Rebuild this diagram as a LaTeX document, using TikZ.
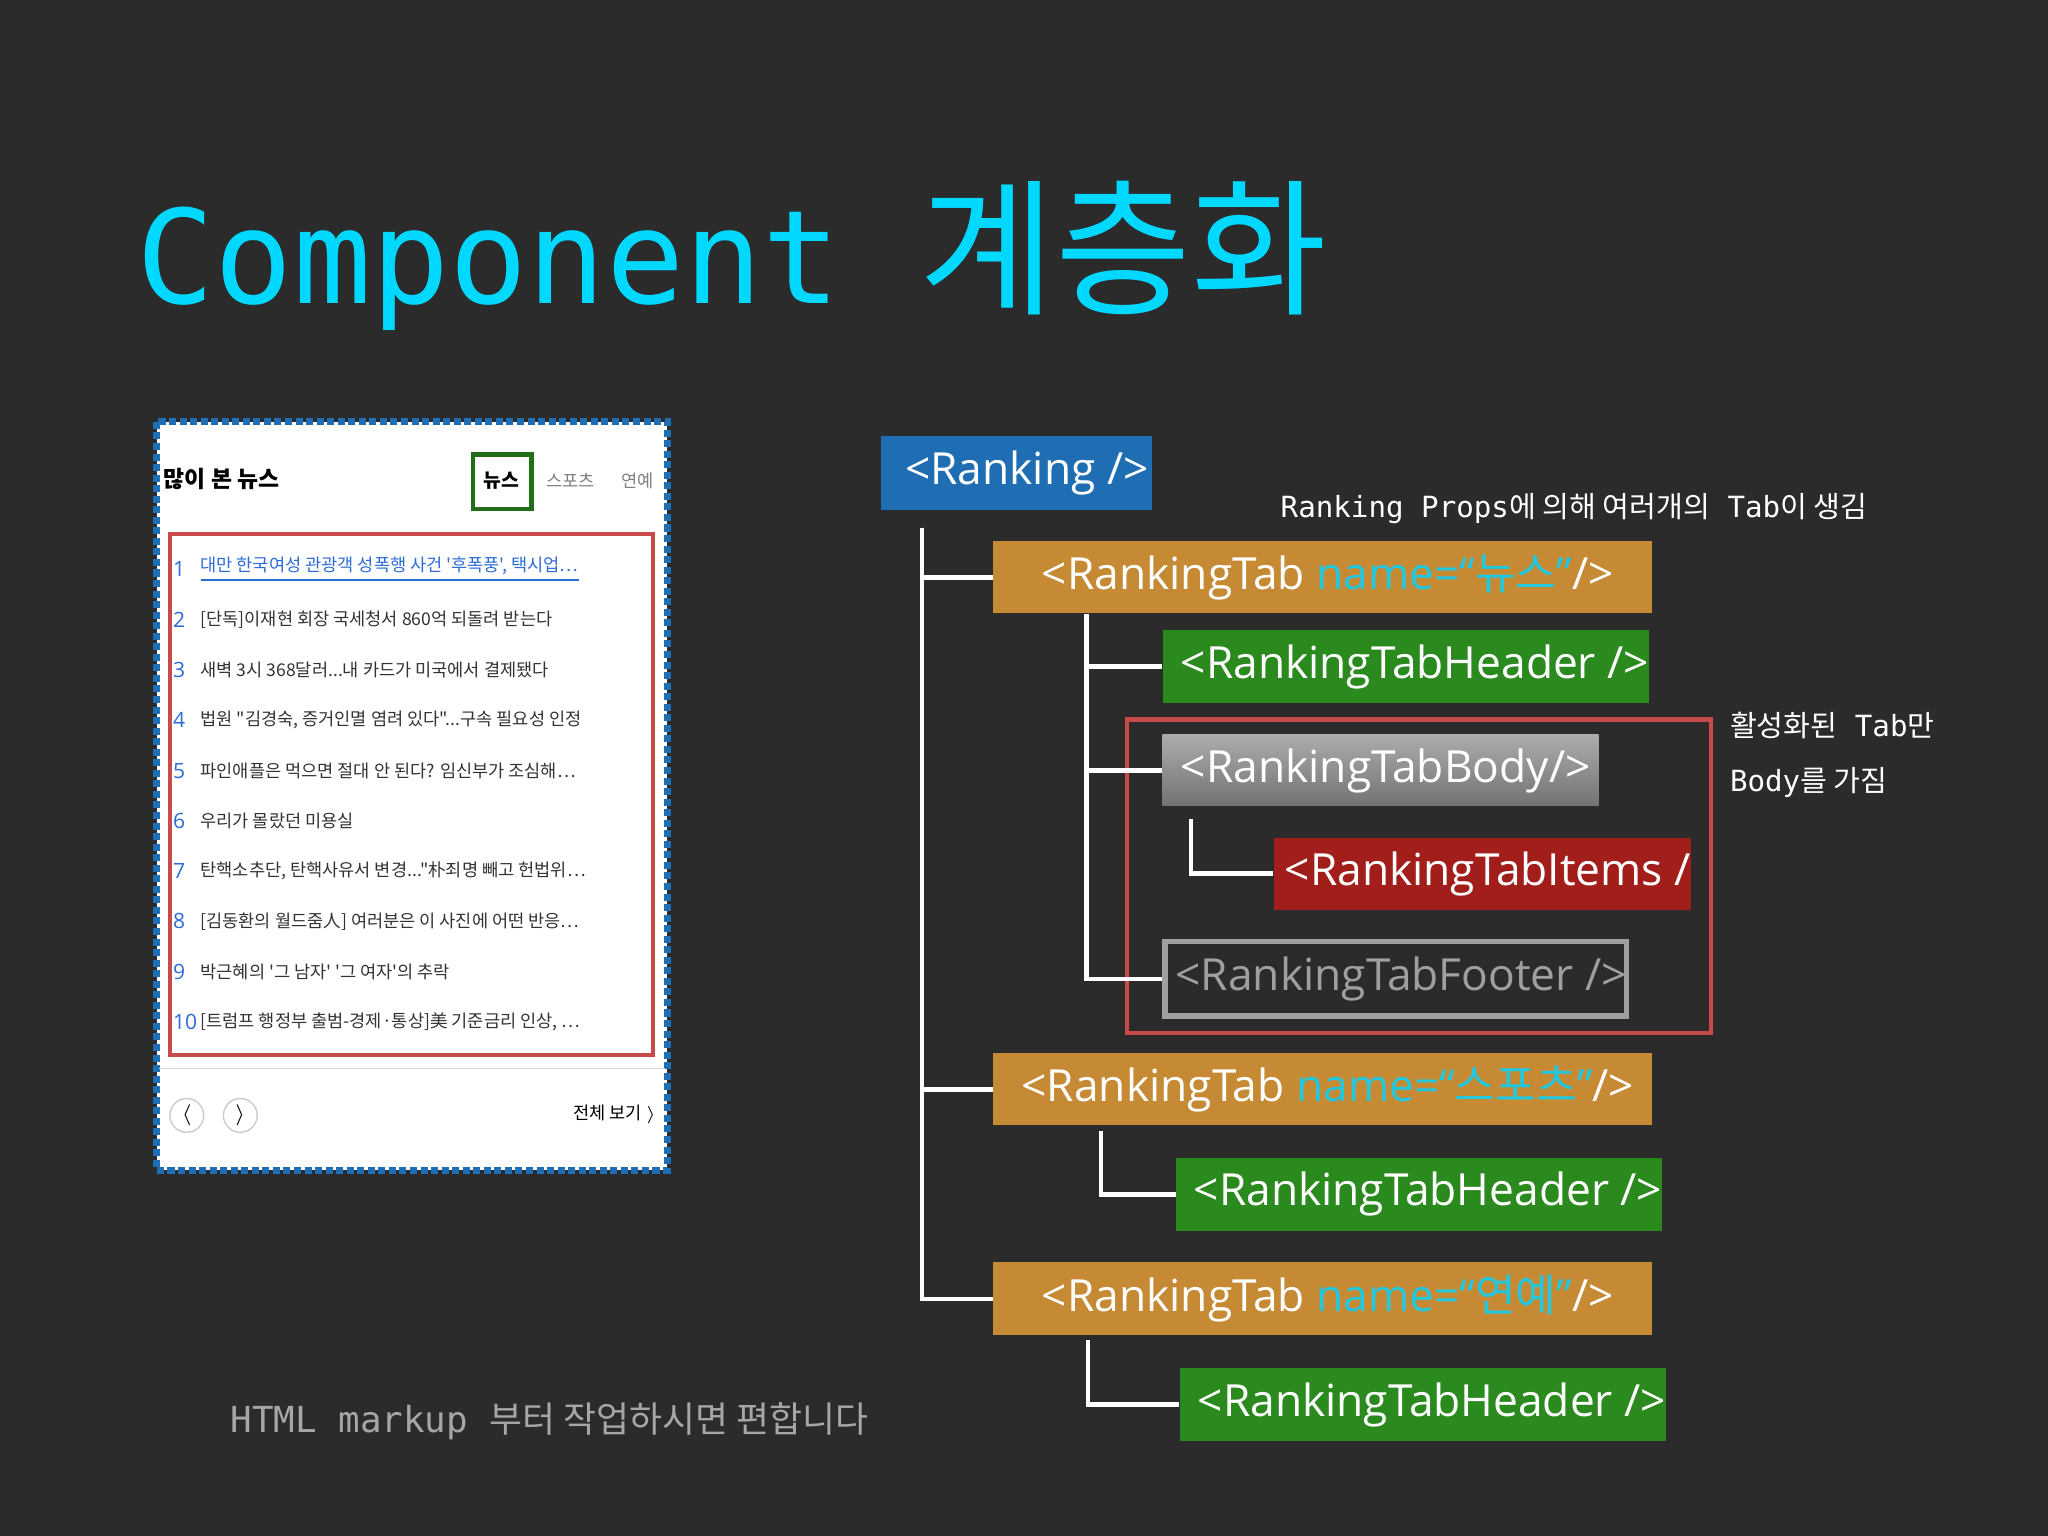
\documentclass[tikz,border=0pt]{standalone}
\usepackage{fontspec}
\setmainfont{Open Sans}
\setmonofont{DejaVu Sans Mono}
\newfontfamily\kr{Noto Sans CJK KR}
\usetikzlibrary{positioning}
\definecolor{bg}{HTML}{2B2B2B}
\definecolor{ttl}{HTML}{00D8FF}
\definecolor{cblue}{HTML}{1F6DB3}
\definecolor{corange}{HTML}{C68A34}
\definecolor{cgreen}{HTML}{2A8A1E}
\definecolor{cred}{HTML}{A11E1A}
\definecolor{cname}{HTML}{22C8E0}
\definecolor{rline}{HTML}{C84A4A}
\definecolor{ilink}{HTML}{2D6CD8}
\newcommand{\tsz}{\fontsize{12.6}{14}\selectfont}
\def\uu{0.3703pt}
\begin{document}
\begin{tikzpicture}[x=0.013061cm,y=-0.013061cm,
  tag/.style={anchor=north west,inner sep=0pt,text=white,font=\tsz,align=left},
  conn/.style={draw=white,line width=1.3pt},
  item/.style={anchor=west,inner sep=0pt,font=\kr\fontsize{5}{6}\selectfont,text=black!80},
  inum/.style={anchor=west,inner sep=0pt,font=\fontsize{6}{7}\selectfont,text=ilink}]
\fill[bg] (0,0) rectangle (1568,1176);
\useasboundingbox (0,0) rectangle (1568,1176);
% title
\node[anchor=base west,inner sep=0pt,text=ttl,font=\ttfamily\fontsize{37}{40}\selectfont] (title) at (104,232) {Component {\kr\fontsize{42}{44}\selectfont 계층화}};
% screenshot
\fill[white] (120,323) rectangle (511,896);
\draw[cblue,line width=2pt,densely dotted] (120,323) rectangle (511,896);
\node[anchor=west,inner sep=0pt,font=\kr\bfseries\fontsize{6.5}{7}\selectfont] (hd) at (125,367) {많이 본 뉴스};
\draw[cgreen!80!black,line width=1.2pt] (362,348) rectangle (407,390);
\node[inner sep=0pt,font=\kr\bfseries\fontsize{5.5}{6}\selectfont] (t1) at (384,368) {뉴스};
\node[inner sep=0pt,font=\kr\fontsize{5}{6}\selectfont,text=gray] (t2) at (437,368) {스포츠};
\node[inner sep=0pt,font=\kr\fontsize{5}{6}\selectfont,text=gray] (t3) at (488,368) {연예};
\draw[rline,line width=1.2pt] (130,409) rectangle (500,808);
\foreach \i/\t in {1/{\textcolor{ilink}{\underline{대만 한국여성 관광객 성폭행 사건 '후폭풍', 택시업…}}},2/{[단독]이재현 회장 국세청서 860억 되돌려 받는다},3/{새벽 3시 368달러...내 카드가 미국에서 결제됐다},4/{법원 "김경숙, 증거인멸 염려 있다"...구속 필요성 인정},5/{파인애플은 먹으면 절대 안 된다? 임신부가 조심해…},6/{우리가 몰랐던 미용실},7/{탄핵소추단, 탄핵사유서 변경..."朴죄명 빼고 헌법위…},8/{[김동환의 월드줌人] 여러분은 이 사진에 어떤 반응…},9/{박근혜의 '그 남자' '그 여자'의 추락},10/{[트럼프 행정부 출범-경제·통상]美 기준금리 인상, …}}{
  \pgfmathsetmacro\yy{436+38.5*(\i-1)}
  \node[inum] (n\i) at (132,\yy) {\i};
  \node[item] (it\i) at (153,\yy) {\t};
}
\draw[gray!30] (122,818) -- (509,818);
\node[draw=gray!40,circle,minimum size=26*\uu,inner sep=0pt,font=\fontsize{6}{6}\selectfont] (b1) at (143,854) {$\langle$};
\node[draw=gray!40,circle,minimum size=26*\uu,inner sep=0pt,font=\fontsize{6}{6}\selectfont] (b2) at (184,854) {$\rangle$};
\node[anchor=east,inner sep=0pt,font=\kr\fontsize{5}{6}\selectfont] (all) at (503,853) {전체 보기 $\rangle$};
% tree boxes
\node[tag,fill=cblue,minimum width=208*\uu,minimum height=57*\uu] (rk) at (674,333) {\hspace*{6pt}<Ranking />};
\node[tag,fill=corange,minimum width=506*\uu,minimum height=55*\uu] (rt1) at (760,414) {\hspace*{3pt}<RankingTab \textcolor{cname}{name=“{\kr 뉴스}”}/>};
\node[tag,fill=cgreen,minimum width=332*\uu,minimum height=56*\uu] (h1) at (890,482) {\hspace*{5pt}<RankingTabHeader />};
\draw[rline,line width=1.3pt] (863,551) rectangle (1310,791);
\shade[top color=gray!65,bottom color=gray!90!black] (890,562) rectangle (1224,617);
\node[tag,minimum width=334*\uu,minimum height=55*\uu] (bd) at (890,562) {\hspace*{3pt}<RankingTabBody/>};
\node[tag,fill=cred,minimum width=317*\uu,minimum height=55*\uu] (itm) at (975,641) {\hspace*{3pt}<RankingTabItems /};
\node[tag,draw=gray!75,line width=1.5pt,minimum width=334*\uu,minimum height=57*\uu,text=gray!75] (ft) at (890,719) {\hspace*{3pt}<RankingTabFooter />};
\node[tag,fill=corange,minimum width=506*\uu,minimum height=55*\uu] (rt2) at (760,806) {\hspace*{3pt}<RankingTab \textcolor{cname}{name=“{\kr 스포츠}”}/>};
\node[tag,fill=cgreen,minimum width=332*\uu,minimum height=56*\uu] (h2) at (900,886) {\hspace*{5pt}<RankingTabHeader />};
\node[tag,fill=corange,minimum width=506*\uu,minimum height=56*\uu] (rt3) at (760,966) {\hspace*{3pt}<RankingTab \textcolor{cname}{name=“{\kr 연예}”}/>};
\node[tag,fill=cgreen,minimum width=333*\uu,minimum height=56*\uu] (h3) at (903,1047) {\hspace*{5pt}<RankingTabHeader />};
% connectors
\coordinate (a0) at (706,404);
\draw[conn] (a0) |- (rt1.west);
\draw[conn] (a0) |- (rt2.west);
\draw[conn] (a0) |- (rt3.west);
\coordinate (b0) at (832,470);
\draw[conn] (b0) |- (h1.west);
\draw[conn] (b0) |- (bd.west);
\draw[conn] (b0) |- (ft.west);
\coordinate (c0) at (912,627);
\draw[conn] (c0) |- (itm.west);
\coordinate (d0) at (843,866);
\draw[conn] (d0) |- (h2.west);
\coordinate (e0) at (833,1026);
\draw[conn] (e0) |- (h3.west);
% annotations
\node[anchor=base west,inner sep=0pt,text=white,font=\ttfamily\fontsize{8.3}{10}\selectfont] (an1) at (980,396) {Ranking Props{\kr 에 의해 여러개의} Tab{\kr 이 생김}};
\node[anchor=base west,inner sep=0pt,text=white,font=\ttfamily\fontsize{8.3}{10}\selectfont] (an2) at (1324,564) {{\kr 활성화된} Tab{\kr 만}};
\node[anchor=base west,inner sep=0pt,text=white,font=\ttfamily\fontsize{8.3}{10}\selectfont] (an3) at (1324,606) {Body{\kr 를 가짐}};
\node[anchor=base west,inner sep=0pt,text=gray!70,font=\ttfamily\fontsize{10.2}{12}\selectfont] (ft2) at (176,1097) {HTML markup {\kr 부터 작업하시면 편합니다}};
\end{tikzpicture}
\end{document}
